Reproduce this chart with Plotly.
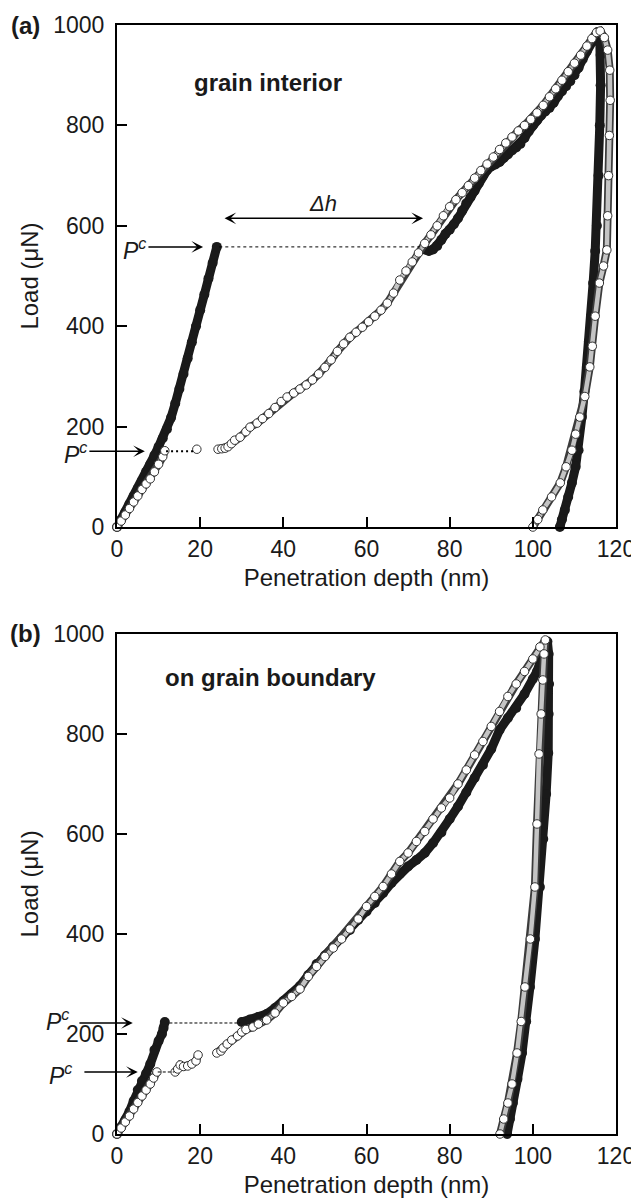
import plotly.graph_objects as go

# ---------------- Panel (a): grain interior ----------------
a_filled_x = [0, 1, 2, 3, 4, 5, 6, 7, 8, 9, 10, 11, 12, 13, 14, 15, 16, 17, 18, 19, 20, 21, 22, 23, 24, None,
              74, 75, 76, 77, 78, 79, 80, 81, 82, 83, 84, 85, 86, 87, 88, 89, 90, 91, 92, 93, 94, 95, 96, 97,
              98, 99, 100, 101, 102, 103, 104, 105, 106, 107, 108, 109, 110, 111, 112, 113, 114, 115, 115.6,
              116.1, 116.3, 116.3, 116.1, 115.8, 115.4, 115.0, 114.5, 114.0, 113.5,
              113.0, 112.4, 111.8, 111.0, 110.3, 109.4, 108.5, 107.7, 107.0, 106.5]
a_filled_y = [0, 15, 30, 46, 62, 76, 92, 110, 125, 143, 160, 177, 195, 218, 246, 275, 305, 336, 368, 400, 432, 463, 495, 526, 558, None,
              553, 550, 553, 560, 572, 584, 592, 603, 615, 630, 645, 657, 670, 685, 700, 711, 718, 722, 727, 735,
              742, 750, 756, 763, 775, 788, 800, 810, 820, 828, 835, 845, 858, 868, 878, 888, 900, 915, 932, 948,
              965, 978, 986,
              975, 940, 880, 800, 700, 600, 550, 486, 420, 370,
              319, 270, 219, 153, 120, 88, 60, 34, 15, 0]

a_open_x = [0, 1, 2, 3, 4, 5, 6, 7, 8, 9, 10, 11, 11.5, None, 19.2, None,
            24.3, 25.2, 26.0, 26.7, 27.5, 28.3, 29.6, 31.0, 32.0, 33.7,
            35.0, 36.5, 38.0, 39.5, 40.9, 42.5, 44.0, 45.5, 47.0, 48.5,
            50.0, 51.5, 53.0, 54.5, 56.0, 57.5, 59.0, 60.5, 62.0, 63.5,
            65.0, 66.5, 68.0, 69.5, 71.0, 72.5, 74.0, 75.5, 77.0, 78.5,
            80.0, 81.5, 83.0, 84.5, 86.0, 87.5, 89.0, 90.5, 92.0, 93.5,
            95.0, 96.5, 98.0, 99.5, 101.0, 102.5, 104.0, 105.5, 107.0, 108.5,
            110.0, 111.5, 113.0, 114.2, 115.3,
            116.2, 117.2, 118.0, 118.5, 118.6, 118.4, 118.2, 118.0, 117.8, 117.0,
            116.0, 115.0, 114.3, 113.7, 112.5, 111.3, 110.3, 109.4, 108.0, 106.6,
            104.5, 102.4, 101.2, 100.0]
a_open_y = [0, 12, 24, 37, 50, 62, 75, 86, 96, 110, 125, 140, 152, None, 155, None,
            155, 156, 157, 160, 166, 173, 179, 190, 199, 207,
            216, 226, 238, 250, 259, 267, 275, 283, 293, 305,
            318, 333, 350, 365, 378, 388, 398, 409, 420, 432,
            446, 466, 492, 510, 528, 546, 565, 582, 600, 620,
            638, 652, 666, 680, 695, 710, 723, 737, 752, 765,
            777, 789, 800, 812, 825, 840, 857, 873, 890, 907,
            924, 940, 958, 973, 985,
            988, 975, 950, 910, 850, 780, 700, 620, 552, 520,
            486, 420, 360, 319, 260, 219, 185, 153, 120, 88,
            60, 34, 15, 0]

# ---------------- Panel (b): on grain boundary ----------------
b_filled_x = [0, 1, 2, 3, 4, 5, 6, 7, 8, 9, 10, 10.8, 11.2, 11.5, None,
              30, 32, 34, 36, 38, 40, 42, 44, 46, 48, 50, 52, 54, 56, 58, 60, 62, 64, 66, 68,
              70, 72, 74, 76, 78, 80, 82, 84, 86, 88, 90, 92, 94, 96, 98, 100, 101, 102, 103, 103.5,
              103.8, 103.9, 103.8, 103.7, 103.2, 102.5, 101.7, 100.5, 99.3, 98.4, 97.4, 96.3, 95.2, 94.5, 93.8]
b_filled_y = [0, 14, 28, 45, 66, 88, 106, 121, 140, 168, 186, 200, 212, 224, None,
              224, 229, 234, 240, 252, 266, 280, 296, 318, 340, 357, 375, 392, 408, 428, 445, 462, 482, 502, 520,
              535, 548, 562, 582, 603, 630, 655, 683, 712, 738, 770, 808, 832, 852, 880, 910, 925, 950, 975, 985,
              960, 900, 840, 762, 680, 590, 494, 390, 294, 225, 162, 110, 62, 30, 0]

b_open_x = [0, 1, 2, 3, 4, 5, 6, 7, 8, 8.8, 9.6, None,
            14.0, 14.6, 15.2, 16.0, 17.0, 18.0, 19.0, 19.5, None,
            24.0, 25.0, 25.5, 26.5, 27.6, 29.0, 30.0, 31.0, 32.7, 34.0,
            36, 38, 40, 42, 44, 46, 48, 50, 52, 54, 56, 58, 60, 62, 64, 66, 68, 70, 72, 74,
            76, 78, 80, 82, 84, 86, 88, 90, 92, 94, 96, 98, 100, 101.7, 103.0,
            102.7, 102.4, 102.0, 101.5, 101.0, 100.5, 99.4, 98.1, 97.2, 96.2, 95.0, 94.0, 93.0, 92.1]
b_open_y = [0, 12, 24, 36, 50, 63, 76, 88, 100, 112, 124, None,
            124, 130, 138, 135, 136, 140, 146, 158, None,
            162, 166, 172, 180, 188, 196, 204, 209, 214, 220,
            228, 242, 262, 275, 290, 315, 335, 355, 372, 390, 410, 430, 455, 475, 495, 520, 545, 562, 585, 605,
            630, 652, 672, 700, 728, 758, 785, 815, 845, 875, 900, 925, 950, 974, 988,
            960, 908, 840, 760, 620, 494, 390, 294, 225, 162, 100, 62, 30, 0]

# axis ticks
x_ticks = [0, 20, 40, 60, 80, 100, 120]
y_ticks = [0, 200, 400, 600, 800, 1000]
X_MAX = 120

# annotation values (pop-in loads / depths)
a_pc_upper = 558
a_pc_lower = 151
a_dh_from, a_dh_to, a_dh_load = 25.5, 73.6, 615
b_pc_upper = 222
b_pc_lower = 124

FONT = "Liberation Sans, Arial, Helvetica, sans-serif"
INK = "#1a1a1a"

fig = go.Figure()


def add_panel(fx, fy, ox, oy, xa, ya):
    common = dict(xaxis=xa, yaxis=ya, showlegend=False, hoverinfo="skip", cliponaxis=False)
    fig.add_trace(go.Scatter(x=fx, y=fy, mode="lines+markers",
                             line=dict(color=INK, width=9),
                             marker=dict(size=10, color=INK), **common))
    fig.add_trace(go.Scatter(x=ox, y=oy, mode="lines",
                             line=dict(color="#3c3c3c", width=8), **common))
    fig.add_trace(go.Scatter(x=ox, y=oy, mode="lines",
                             line=dict(color="#c4c4c4", width=4.5), **common))
    fig.add_trace(go.Scatter(x=ox, y=oy, mode="markers",
                             marker=dict(size=8.5, color="white",
                                         line=dict(color="#333333", width=1)), **common))


add_panel(a_filled_x, a_filled_y, a_open_x, a_open_y, "x", "y")
add_panel(b_filled_x, b_filled_y, b_open_x, b_open_y, "x2", "y2")

axis_common = dict(showline=True, linecolor="black", linewidth=2, mirror=True, automargin=False,
                   ticks="inside", ticklen=10, tickwidth=2, tickcolor="black",
                   showgrid=False, zeroline=False, tickfont=dict(size=23, color=INK, family=FONT))
xcommon = dict(axis_common, range=[0, X_MAX], tickvals=x_ticks,
               title=dict(text="Penetration depth (nm)", font=dict(size=24, color=INK, family=FONT), standoff=9))
ycommon = dict(axis_common, range=[0, 1000], tickvals=y_ticks, ticklabelstandoff=6,
               title=dict(text="Load (μN)", font=dict(size=24, color=INK, family=FONT), standoff=8))

# the page body adds an 8 px margin, so the figure is 8 px smaller than the window
fig.update_layout(
    width=631, height=1192,
    margin=dict(l=109, r=23, t=17, b=66, autoexpand=False),
    paper_bgcolor="white", plot_bgcolor="white",
    font=dict(family=FONT, color=INK),
    xaxis=dict(xcommon, domain=[0, 1], anchor="y"),
    yaxis=dict(ycommon, domain=[0.5473, 1], anchor="x"),
    xaxis2=dict(xcommon, domain=[0, 1], anchor="y2"),
    yaxis2=dict(ycommon, domain=[0, 0.4509], anchor="x2"),
)

ann = []
# panel labels
ann.append(dict(text="<b>(a)</b>", xref="paper", yref="paper", x=-0.184, y=1.0, showarrow=False,
                font=dict(size=24, color=INK), xanchor="center", yanchor="middle"))
ann.append(dict(text="<b>(b)</b>", xref="paper", yref="paper", x=-0.184, y=0.4509, showarrow=False,
                font=dict(size=24, color=INK), xanchor="center", yanchor="middle"))
# titles inside panels
ann.append(dict(text="<b>grain interior</b>", xref="x", yref="y", x=36.3, y=886, showarrow=False,
                font=dict(size=24, color=INK)))
ann.append(dict(text="<b>on grain boundary</b>", xref="x2", yref="y2", x=36.8, y=912, showarrow=False,
                font=dict(size=24, color=INK)))


def arrow(xr, yr, x0, x1, yv, both=False):
    d = dict(text="", xref=xr, yref=yr, axref=xr, ayref=yr, x=x1, y=yv, ax=x0, ay=yv,
             showarrow=True, arrowhead=3, arrowsize=1.3, arrowwidth=1.5, arrowcolor="black",
             standoff=0, startstandoff=0)
    if both:
        d.update(arrowside="end+start", startarrowhead=3, startarrowsize=1.3)
    return d


def pc(yr, xv, yv):
    # x given in data units, placed through paper coords so it may sit left of the axis
    return dict(text="<i>P<sup>c</sup></i>", xref="paper", yref=yr, x=xv / X_MAX, y=yv,
                showarrow=False, font=dict(size=23, color=INK), xanchor="center", yanchor="middle")


# panel (a)
ann.append(arrow("x", "y", 7.2, 20.7, a_pc_upper))
ann.append(pc("y", 4.3, a_pc_upper - 4))
ann.append(arrow("x", "y", -7.0, 6.7, a_pc_lower))
ann.append(pc("y", -10.0, a_pc_lower - 4))
ann.append(arrow("x", "y", a_dh_from, a_dh_to, a_dh_load, both=True))
ann.append(dict(text="<i>Δh</i>", xref="x", yref="y", x=(a_dh_from + a_dh_to) / 2, y=a_dh_load + 30,
                showarrow=False, font=dict(size=22, color=INK)))
# panel (b)
ann.append(arrow("x2", "y2", -9.4, 3.8, b_pc_upper))
ann.append(pc("y2", -14.2, b_pc_upper + 6))
ann.append(arrow("x2", "y2", -8.2, 5.0, b_pc_lower))
ann.append(pc("y2", -13.5, b_pc_lower - 4))

fig.update_layout(annotations=ann)

shapes = [
    dict(type="line", xref="x", yref="y", x0=24.6, x1=73.0, y0=a_pc_upper, y1=a_pc_upper,
         line=dict(color="black", width=1, dash="3px,3px")),
    dict(type="line", xref="x", yref="y", x0=11.8, x1=18.5, y0=a_pc_lower, y1=a_pc_lower,
         line=dict(color="black", width=2, dash="2px,3px")),
    dict(type="line", xref="x2", yref="y2", x0=12.6, x1=29.6, y0=b_pc_upper, y1=b_pc_upper,
         line=dict(color="black", width=1, dash="3px,2px")),
    dict(type="line", xref="x2", yref="y2", x0=9.8, x1=13.8, y0=b_pc_lower, y1=b_pc_lower,
         line=dict(color="black", width=1, dash="3px,2px")),
]
fig.update_layout(shapes=shapes)

fig.write_html("out.html")
